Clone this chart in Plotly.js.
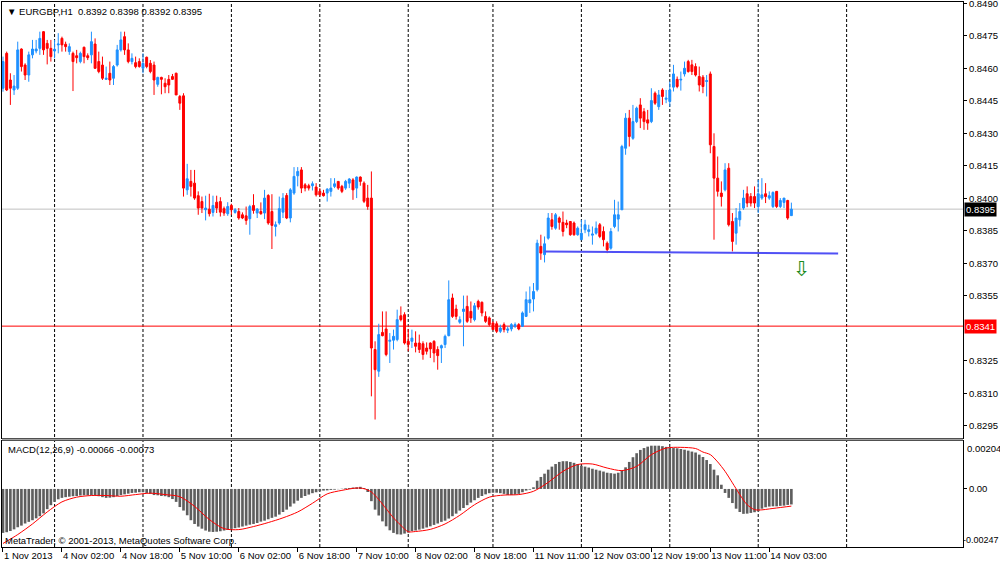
<!DOCTYPE html>
<html><head><meta charset="utf-8">
<script src="https://cdn.plot.ly/plotly-3.0.1.min.js"></script>
<style>html,body{margin:0;padding:0;background:#fff}#chart{width:1000px;height:564px}</style>
</head><body><div id="chart"></div>
<script>
const openP=[0.84508,0.84669,0.84546,0.84500,0.84508,0.84689,0.84615,0.84569,0.84662,0.84680,
0.84692,0.84769,0.84715,0.84692,0.84680,0.84708,0.84738,0.84711,0.84677,0.84669,
0.84658,0.84631,0.84697,0.84658,0.84662,0.84712,0.84631,0.84615,0.84549,0.84577,
0.84554,0.84615,0.84685,0.84746,0.84685,0.84631,0.84626,0.84631,0.84600,0.84651,
0.84623,0.84615,0.84526,0.84558,0.84531,0.84549,0.84562,0.84577,0.84470,0.84473,
0.84039,0.84078,0.84070,0.84012,0.83985,0.83947,0.83950,0.83935,0.83982,0.83985,
0.83952,0.83929,0.83967,0.83935,0.83939,0.83924,0.83919,0.83906,0.83967,0.83932,
0.83939,0.83932,0.84013,0.83939,0.83870,0.83886,0.83936,0.84013,0.83909,0.84024,
0.84104,0.84131,0.84062,0.84058,0.84058,0.84052,0.84032,0.84024,0.84024,0.84032,
0.84055,0.84078,0.84055,0.84047,0.84070,0.84085,0.84047,0.84098,0.84070,0.84001,
0.84001,0.83302,0.83202,0.83381,0.83397,0.83340,0.83345,0.83348,0.83458,0.83463,
0.83340,0.83340,0.83332,0.83332,0.83329,0.83309,0.83332,0.83340,0.83302,0.83309,
0.83325,0.83366,0.83540,0.83489,0.83428,0.83478,0.83501,0.83478,0.83440,0.83524,
0.83520,0.83455,0.83448,0.83425,0.83421,0.83386,0.83417,0.83391,0.83397,0.83409,
0.83417,0.83409,0.83455,0.83517,0.83535,0.83578,0.83778,0.83740,0.83816,0.83901,
0.83862,0.83909,0.83889,0.83886,0.83893,0.83886,0.83832,0.83809,0.83855,0.83847,
0.83830,0.83839,0.83878,0.83847,0.83793,0.83770,0.83870,0.83904,0.83947,0.84231,
0.84370,0.84277,0.84354,0.84431,0.84400,0.84362,0.84354,0.84485,0.84423,0.84500,
0.84457,0.84447,0.84513,0.84549,0.84546,0.84574,0.84631,0.84616,0.84608,0.84562,
0.84559,0.84539,0.84574,0.84239,0.84093,0.84024,0.84039,0.84139,0.83893,0.83839,
0.83901,0.83955,0.84021,0.84008,0.84008,0.83962,0.84001,0.84021,0.84001,0.83962,
0.84032,0.83962,0.83981,0.83990,0.83920];
const highP=[0.84654,0.84677,0.84577,0.84569,0.84723,0.84692,0.84623,0.84677,0.84731,0.84731,
0.84769,0.84772,0.84731,0.84731,0.84731,0.84762,0.84746,0.84723,0.84715,0.84677,
0.84685,0.84677,0.84700,0.84669,0.84769,0.84738,0.84677,0.84654,0.84608,0.84631,
0.84615,0.84708,0.84769,0.84769,0.84715,0.84669,0.84654,0.84646,0.84669,0.84654,
0.84638,0.84631,0.84561,0.84561,0.84554,0.84569,0.84574,0.84580,0.84477,0.84485,
0.84159,0.84131,0.84131,0.84032,0.84008,0.84012,0.84021,0.84012,0.84012,0.84005,
0.83962,0.83982,0.83975,0.83955,0.83955,0.83935,0.83962,0.83970,0.84019,0.83955,
0.83981,0.84039,0.84019,0.84019,0.83893,0.84008,0.84024,0.84024,0.84047,0.84144,
0.84144,0.84144,0.84070,0.84067,0.84078,0.84070,0.84047,0.84039,0.84047,0.84093,
0.84093,0.84078,0.84062,0.84085,0.84093,0.84093,0.84101,0.84101,0.84078,0.84062,
0.84124,0.83340,0.83421,0.83478,0.83478,0.83378,0.83394,0.83486,0.83501,0.83474,
0.83397,0.83394,0.83386,0.83371,0.83340,0.83335,0.83335,0.83345,0.83317,0.83325,
0.83371,0.83621,0.83560,0.83509,0.83455,0.83551,0.83551,0.83524,0.83517,0.83532,
0.83524,0.83478,0.83455,0.83432,0.83432,0.83417,0.83427,0.83409,0.83424,0.83427,
0.83424,0.83478,0.83570,0.83593,0.83609,0.83809,0.83832,0.83824,0.83932,0.83932,
0.83932,0.83916,0.83939,0.83901,0.83893,0.83893,0.83870,0.83901,0.83901,0.83878,
0.83870,0.83893,0.83886,0.83870,0.83801,0.83862,0.83993,0.83985,0.84247,0.84393,
0.84408,0.84431,0.84423,0.84462,0.84416,0.84408,0.84508,0.84493,0.84500,0.84508,
0.84500,0.84539,0.84616,0.84562,0.84585,0.84631,0.84639,0.84639,0.84623,0.84608,
0.84569,0.84569,0.84585,0.84300,0.84193,0.84078,0.84162,0.84162,0.83932,0.83955,
0.83978,0.84039,0.84055,0.84024,0.84055,0.84085,0.84093,0.84070,0.84032,0.84032,
0.84032,0.84001,0.84001,0.83993,0.83980];
const lowP=[0.84492,0.84495,0.84431,0.84477,0.84500,0.84585,0.84546,0.84538,0.84646,0.84669,
0.84662,0.84662,0.84618,0.84631,0.84646,0.84669,0.84677,0.84677,0.84662,0.84495,
0.84623,0.84623,0.84623,0.84638,0.84623,0.84597,0.84577,0.84546,0.84546,0.84523,
0.84523,0.84608,0.84677,0.84662,0.84623,0.84618,0.84600,0.84603,0.84577,0.84600,
0.84577,0.84477,0.84515,0.84480,0.84485,0.84485,0.84546,0.84477,0.84408,0.84008,
0.84016,0.84008,0.83993,0.83924,0.83932,0.83898,0.83916,0.83916,0.83932,0.83916,
0.83919,0.83919,0.83924,0.83929,0.83901,0.83904,0.83878,0.83832,0.83929,0.83909,
0.83924,0.83904,0.83878,0.83766,0.83824,0.83878,0.83909,0.83904,0.83889,0.84016,
0.84055,0.84024,0.84032,0.84036,0.84036,0.84008,0.84008,0.84008,0.83985,0.84008,
0.84047,0.84039,0.84024,0.84039,0.84047,0.83993,0.84001,0.84058,0.83978,0.83947,
0.83086,0.82979,0.83176,0.83363,0.83271,0.83240,0.83302,0.83340,0.83432,0.83325,
0.83294,0.83309,0.83289,0.83286,0.83255,0.83279,0.83263,0.83243,0.83209,0.83240,
0.83309,0.83363,0.83448,0.83440,0.83421,0.83317,0.83425,0.83425,0.83432,0.83486,
0.83455,0.83425,0.83409,0.83394,0.83378,0.83378,0.83381,0.83378,0.83386,0.83401,
0.83391,0.83406,0.83452,0.83471,0.83478,0.83570,0.83716,0.83704,0.83809,0.83855,
0.83855,0.83855,0.83824,0.83862,0.83827,0.83827,0.83827,0.83809,0.83839,0.83824,
0.83786,0.83832,0.83816,0.83778,0.83747,0.83763,0.83862,0.83847,0.83947,0.84201,
0.84239,0.84270,0.84347,0.84324,0.84316,0.84316,0.84347,0.84431,0.84408,0.84431,
0.84439,0.84423,0.84493,0.84508,0.84497,0.84562,0.84580,0.84569,0.84562,0.84493,
0.84485,0.84470,0.84208,0.83809,0.84008,0.83962,0.84032,0.83870,0.83755,0.83786,
0.83870,0.83947,0.83959,0.83962,0.83955,0.83932,0.83993,0.83978,0.83993,0.83955,
0.83955,0.83955,0.83955,0.83901,0.83920];
const closeP=[0.84631,0.84500,0.84508,0.84518,0.84685,0.84608,0.84569,0.84662,0.84689,0.84689,
0.84738,0.84685,0.84692,0.84654,0.84688,0.84712,0.84708,0.84700,0.84700,0.84631,
0.84649,0.84669,0.84654,0.84649,0.84723,0.84600,0.84585,0.84554,0.84554,0.84546,
0.84608,0.84685,0.84731,0.84685,0.84631,0.84646,0.84608,0.84608,0.84623,0.84608,
0.84585,0.84546,0.84558,0.84549,0.84515,0.84523,0.84549,0.84477,0.84439,0.84047,
0.84090,0.84055,0.84001,0.83955,0.83955,0.83955,0.83929,0.83967,0.83955,0.83936,
0.83932,0.83962,0.83947,0.83947,0.83909,0.83909,0.83898,0.83962,0.83944,0.83950,
0.83929,0.84001,0.83886,0.83875,0.83878,0.83952,0.84001,0.83909,0.84039,0.84101,
0.84124,0.84047,0.84047,0.84047,0.84067,0.84016,0.84016,0.84012,0.84042,0.84047,
0.84067,0.84047,0.84032,0.84078,0.84089,0.84039,0.84098,0.84078,0.83986,0.83962,
0.83309,0.83209,0.83371,0.83366,0.83279,0.83345,0.83363,0.83440,0.83440,0.83332,
0.83325,0.83355,0.83317,0.83302,0.83279,0.83294,0.83305,0.83286,0.83274,0.83320,
0.83363,0.83532,0.83455,0.83455,0.83440,0.83489,0.83432,0.83448,0.83504,0.83498,
0.83471,0.83432,0.83417,0.83394,0.83386,0.83401,0.83394,0.83397,0.83417,0.83417,
0.83397,0.83471,0.83532,0.83532,0.83570,0.83793,0.83747,0.83790,0.83909,0.83870,
0.83924,0.83889,0.83847,0.83878,0.83832,0.83832,0.83862,0.83839,0.83878,0.83855,
0.83835,0.83862,0.83824,0.83809,0.83763,0.83847,0.83924,0.83924,0.84239,0.84370,
0.84285,0.84354,0.84416,0.84370,0.84354,0.84347,0.84451,0.84439,0.84477,0.84470,
0.84462,0.84500,0.84574,0.84516,0.84549,0.84600,0.84585,0.84585,0.84569,0.84523,
0.84516,0.84543,0.84247,0.84093,0.84032,0.84008,0.84131,0.83878,0.83801,0.83909,
0.83939,0.84001,0.83978,0.83978,0.83978,0.84021,0.84016,0.84008,0.84012,0.84027,
0.83962,0.83990,0.84001,0.83909,0.83950];
const macdMain=[-0.00187,-0.00184,-0.00179,-0.00172,-0.00163,-0.00156,-0.00147,-0.00140,-0.00133,-0.00125,
-0.00116,-0.00104,-0.00086,-0.00069,-0.00055,-0.00044,-0.00038,-0.00035,-0.00033,-0.00031,
-0.00030,-0.00028,-0.00027,-0.00027,-0.00027,-0.00028,-0.00031,-0.00035,-0.00038,-0.00037,
-0.00035,-0.00030,-0.00026,-0.00023,-0.00020,-0.00017,-0.00016,-0.00014,-0.00014,-0.00017,
-0.00021,-0.00026,-0.00027,-0.00030,-0.00031,-0.00035,-0.00043,-0.00055,-0.00077,-0.00092,
-0.00112,-0.00133,-0.00149,-0.00160,-0.00169,-0.00177,-0.00182,-0.00183,-0.00182,-0.00180,
-0.00177,-0.00174,-0.00170,-0.00167,-0.00164,-0.00160,-0.00156,-0.00152,-0.00149,-0.00145,
-0.00139,-0.00135,-0.00129,-0.00123,-0.00118,-0.00109,-0.00098,-0.00088,-0.00075,-0.00062,
-0.00050,-0.00038,-0.00030,-0.00024,-0.00018,-0.00014,-0.00010,-0.00007,-0.00006,-0.00004,
-0.00003,-0.00001,0.00001,0.00003,0.00004,0.00006,0.00007,0.00009,0.00004,-0.00013,
-0.00052,-0.00088,-0.00113,-0.00138,-0.00159,-0.00176,-0.00187,-0.00193,-0.00194,-0.00190,
-0.00186,-0.00179,-0.00177,-0.00173,-0.00169,-0.00164,-0.00159,-0.00153,-0.00147,-0.00140,
-0.00135,-0.00126,-0.00116,-0.00105,-0.00092,-0.00081,-0.00069,-0.00058,-0.00048,-0.00038,
-0.00030,-0.00023,-0.00018,-0.00016,-0.00016,-0.00018,-0.00021,-0.00026,-0.00026,-0.00024,
-0.00021,-0.00014,-0.00007,-0.00003,0.00007,0.00035,0.00051,0.00065,0.00082,0.00095,
0.00106,0.00115,0.00118,0.00118,0.00115,0.00111,0.00106,0.00099,0.00095,0.00091,
0.00086,0.00082,0.00078,0.00074,0.00069,0.00067,0.00065,0.00069,0.00078,0.00092,
0.00115,0.00135,0.00152,0.00166,0.00174,0.00180,0.00184,0.00184,0.00184,0.00182,
0.00179,0.00176,0.00174,0.00173,0.00170,0.00167,0.00163,0.00159,0.00155,0.00146,
0.00136,0.00123,0.00106,0.00082,0.00058,0.00018,-0.00017,-0.00038,-0.00060,-0.00084,
-0.00098,-0.00106,-0.00105,-0.00102,-0.00099,-0.00095,-0.00084,-0.00078,-0.00075,-0.00074,
-0.00074,-0.00072,-0.00071,-0.00068,-0.00066];
const signalBars=[0,4,8,12,16,20,24,28,32,36,40,44,48,52,56,60,64,68,72,76,80,84,88,92,96,98,100,102,104,106,108,110,112,116,120,124,128,132,136,140,144,148,152,156,160,164,168,172,176,180,184,188,190,192,194,196,198,200,202,204,206,208,210,212,214];
const signalVals=[-0.00232,-0.00194,-0.00149,-0.00098,-0.00055,-0.00035,-0.00028,-0.00028,-0.00031,-0.00024,-0.00018,-0.00024,-0.00033,-0.00074,-0.00130,-0.00169,-0.00173,-0.00160,-0.00143,-0.00123,-0.00098,-0.00061,-0.00021,-0.00006,0.00004,0.00001,-0.00013,-0.00045,-0.00084,-0.00123,-0.00155,-0.00182,-0.00181,-0.00172,-0.00149,-0.00112,-0.00067,-0.00035,-0.00026,-0.00024,-0.00010,0.00028,0.00075,0.00104,0.00106,0.00089,0.00078,0.00096,0.00146,0.00174,0.00177,0.00172,0.00157,0.00146,0.00115,0.00075,0.00026,-0.00024,-0.00067,-0.00088,-0.00089,-0.00085,-0.00081,-0.00077,-0.00073];
const timeLabels=["1 Nov 2013","4 Nov 02:00","4 Nov 18:00","5 Nov 10:00","6 Nov 02:00","6 Nov 18:00","7 Nov 10:00","8 Nov 02:00","8 Nov 18:00","11 Nov 11:00","12 Nov 03:00","12 Nov 19:00","13 Nov 11:00","14 Nov 03:00"];
const barsPerLabel=16;
const dayStartBars=[14,38,62,86,110,133,157,181,205,229];
const priceTicks=[0.8295,0.8310,0.8325,0.8355,0.8370,0.8385,0.8400,0.8415,0.8430,0.8445,0.8460,0.8475,0.8490];
const bidPrice=0.8395;
const redLevel=0.8341;
const trendBars=[146.9,226.7];
const trendPrices=[0.83754,0.83745];
const arrowBar=216.9, arrowPrice=0.83675;
const macdMax=0.00204, macdMin=-0.00247;

const idx=openP.map((_,i)=>i);
const F="Liberation Sans, Arial, sans-serif";
const xr=[-0.27,260.59];

const traces=[
 {type:'candlestick',x:idx,open:openP,high:highP,low:lowP,close:closeP,xaxis:'x',yaxis:'y',
  increasing:{line:{color:'#1E90FF',width:1},fillcolor:'#1E90FF'},
  decreasing:{line:{color:'#FF0000',width:1},fillcolor:'#FF0000'},
  whiskerwidth:0,hoverinfo:'skip',showlegend:false},
 {type:'scatter',mode:'lines',x:trendBars,y:trendPrices,xaxis:'x',yaxis:'y',
  line:{color:'rgb(80,80,245)',width:2},hoverinfo:'skip'},
 {type:'bar',x:idx,y:macdMain,xaxis:'x2',yaxis:'y2',width:0.72,
  marker:{color:'#5e5e5e',line:{width:0}},hoverinfo:'skip'},
 {type:'scatter',mode:'lines',x:signalBars,y:signalVals,xaxis:'x2',yaxis:'y2',
  line:{color:'#FF0000',width:1,shape:'spline',smoothing:0.8},hoverinfo:'skip'}
];

const shapes=[];
dayStartBars.forEach(b=>{
 shapes.push({type:'line',xref:'x',yref:'paper',x0:b,x1:b,y0:0,y1:1,layer:'below',
  line:{color:'#000',width:1,dash:'3px,2px'}});
});
shapes.push({type:'line',xref:'paper',yref:'y',x0:0,x1:1,y0:bidPrice,y1:bidPrice,layer:'below',line:{color:'#C0C0C0',width:1}});
shapes.push({type:'line',xref:'paper',yref:'y',x0:0,x1:1,y0:redLevel,y1:redLevel,layer:'below',line:{color:'#FF0000',width:1}});
shapes.push({type:'line',xref:'paper',yref:'paper',x0:0,x1:1,y0:0.1974,y1:0.1974,layer:'above',line:{color:'#A0A0A0',width:2}});

const ann=[
 {xref:'paper',yref:'paper',x:0,y:1,xanchor:'left',yanchor:'top',xshift:3,yshift:-2,showarrow:false,
  text:'▼ EURGBP,H1  0.8392 0.8398 0.8392 0.8395',font:{family:F,size:9.5,color:'#000'}},
 {xref:'paper',yref:'y2 domain',x:0,y:1,xanchor:'left',yanchor:'top',xshift:4,yshift:-1,showarrow:false,
  text:'MACD(12,26,9) -0.00066 -0.00073',font:{family:F,size:9.5,color:'#000'}},
 {xref:'paper',yref:'y2 domain',x:0,y:0,xanchor:'left',yanchor:'bottom',xshift:1,yshift:-1,showarrow:false,
  text:'MetaTrader, © 2001-2013, MetaQuotes Software Corp.',font:{family:F,size:9.5,color:'#000'}},
 {xref:'paper',yref:'y2',x:1,y:macdMax,xanchor:'left',yanchor:'top',xshift:2,showarrow:false,
  text:'0.00204',font:{family:F,size:9.5,color:'#000'}},
 {xref:'paper',yref:'y2',x:1,y:macdMin,xanchor:'left',yanchor:'bottom',xshift:-2,showarrow:false,
  text:'-0.00247',font:{family:F,size:9,color:'#000'}},
 {xref:'paper',yref:'y',x:1,y:bidPrice,xanchor:'left',yanchor:'middle',xshift:1,showarrow:false,
  text:'0.8395',bgcolor:'#000',borderpad:1,font:{family:F,size:9.5,color:'#fff'}},
 {xref:'paper',yref:'y',x:1,y:redLevel,xanchor:'left',yanchor:'middle',xshift:1,showarrow:false,
  text:'0.8341',bgcolor:'#FF0000',borderpad:1,font:{family:F,size:9.5,color:'#fff'}},
 {xref:'x',yref:'y',x:arrowBar,y:arrowPrice,showarrow:false,text:'⇩',
  font:{family:'DejaVu Sans',size:21,color:'#1a8a1a'}}
];

const layout={
 width:1000,height:564,margin:{l:2,r:37,t:2,b:17},
 paper_bgcolor:'#fff',plot_bgcolor:'#fff',showlegend:false,hovermode:false,
 font:{family:F,size:9.5,color:'#000'},
 boxgap:0.25,bargap:0.3,
 xaxis:{domain:[0,1],anchor:'y',range:xr,showgrid:false,zeroline:false,showticklabels:false,ticks:'',
  showline:true,mirror:true,linecolor:'#000',linewidth:1,rangeslider:{visible:false},fixedrange:true},
 xaxis2:{domain:[0,1],anchor:'y2',range:xr,showgrid:false,zeroline:false,
  tickmode:'array',tickvals:timeLabels.map((_,k)=>k*barsPerLabel),ticktext:timeLabels,
  ticks:'outside',ticklen:4,tickcolor:'#000',ticklabelposition:'outside right',tickangle:0,
  ticklabeloverflow:'allow',automargin:false,
  tickfont:{family:F,size:9.5,color:'#000'},
  showline:true,mirror:true,linecolor:'#000',linewidth:1,fixedrange:true},
 yaxis:{domain:[0.2009,1],anchor:'x',side:'right',range:[0.82896,0.84906],
  tickmode:'array',tickvals:priceTicks,tickformat:'.4f',ticks:'outside',ticklen:3,tickcolor:'#000',
  ticklabeloverflow:'allow',automargin:false,
  tickfont:{family:F,size:9.5,color:'#000'},showgrid:false,zeroline:false,
  showline:true,mirror:true,linecolor:'#000',linewidth:1,fixedrange:true},
 yaxis2:{domain:[0,0.1945],anchor:'x2',side:'right',range:[macdMin,macdMax],
  tickmode:'array',tickvals:[0],ticktext:['0.00'],ticks:'outside',ticklen:3,tickcolor:'#000',
  automargin:false,
  tickfont:{family:F,size:9.5,color:'#000'},showgrid:false,zeroline:false,
  showline:true,mirror:true,linecolor:'#000',linewidth:1,fixedrange:true},
 shapes:shapes,annotations:ann
};
Plotly.newPlot('chart',traces,layout,{staticPlot:true,displayModeBar:false});
</script></body></html>
